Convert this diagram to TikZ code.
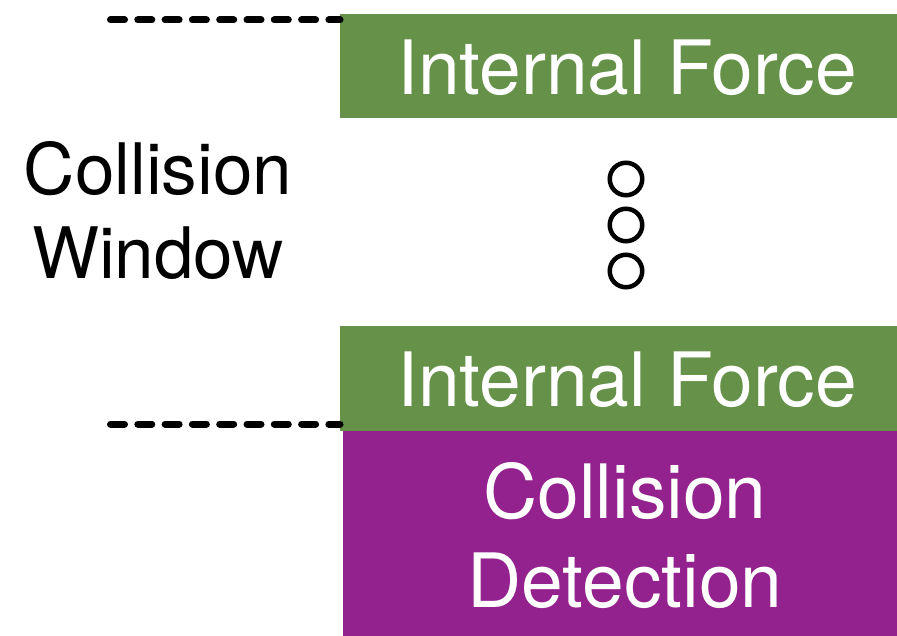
\documentclass[tikz,border=0pt]{standalone}
\usepackage{fontspec}
\setmainfont{TeX Gyre Heros}
\definecolor{forcegreen}{HTML}{659148}
\definecolor{detectpurple}{HTML}{93218E}
\tikzset{
  stagebox/.style={draw=none, inner sep=0pt, outer sep=0pt, anchor=north west},
  boxlabel/.style={text=white, anchor=base, inner sep=0pt, font=\fontsize{75}{90}\selectfont},
  sidelabel/.style={text=black, anchor=base, inner sep=0pt, font=\fontsize{71}{85}\selectfont},
  windowedge/.style={line width=7pt, line cap=round, dash pattern=on 14pt off 13.3pt},
  dot/.style={draw, circle, line width=4.5pt, minimum size=32.5pt, inner sep=0pt}
}
\begin{document}
\begin{tikzpicture}[x=1pt,y=-1pt]
  \useasboundingbox (0,0) rectangle (897,636);

  % pipeline stages
  \node[stagebox, fill=forcegreen, minimum width=557pt, minimum height=104pt] (force1) at (340,14) {};
  \node[stagebox, fill=forcegreen, minimum width=557pt, minimum height=105pt] (force2) at (340,326) {};
  \node[stagebox, fill=detectpurple, minimum width=554pt, minimum height=205pt] (detect) at (343,431) {};

  \node[boxlabel] (force1text) at (627,95) {Internal Force};
  \node[boxlabel] (force2text) at (627,406) {Internal Force};
  \node[boxlabel] (detecttext1) at (625,518) {Collision};
  \node[boxlabel] (detecttext2) at (625,607) {Detection};

  % ellipsis between the two internal force stages
  \node[dot] (dot1) at (626,179) {};
  \node[dot] (dot2) at (626,225) {};
  \node[dot] (dot3) at (626,271) {};

  % window bounds
  \coordinate (topstart) at (110.5,20);
  \coordinate (botstart) at (110.5,424);
  \draw[windowedge] (topstart) -- (topstart -| force1.west);
  \draw[windowedge] (botstart) -- (botstart -| force2.west);

  \node[sidelabel] (wintext1) at (158,195) {Collision};
  \node[sidelabel] (wintext2) at (158,279) {Window};
\end{tikzpicture}
\end{document}
